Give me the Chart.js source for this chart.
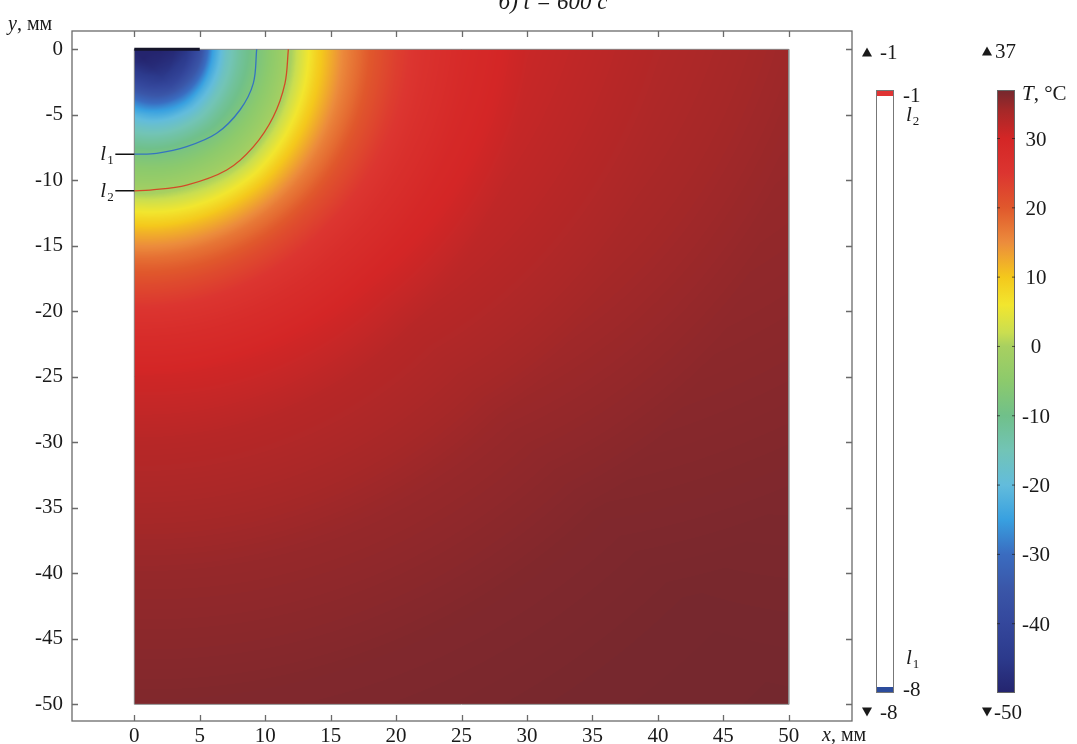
<!DOCTYPE html>
<html>
<head>
<meta charset="utf-8">
<title>T field</title>
<script src="https://cdn.jsdelivr.net/npm/chart.js@4/dist/chart.umd.min.js"></script>
<style>
  body { margin: 0; background: #fff; }
  canvas { display: block; }
</style>
</head>
<body>
<canvas id="campo" width="1077" height="744"></canvas>
<script>
var radii     = [0, 1, 2, 3, 4, 5, 6, 7, 8, 9, 10, 11, 12, 13, 14, 16, 18, 20, 22, 25, 30, 40, 50, 60, 71];
var tSurface  = [-50, -50, -50, -49, -46, -38, -25, -17, -12.5, -9.2, -6.2, -3.2, 0, 4.5, 9, 15.5, 20, 23.5, 26, 28.5, 31, 33, 34.5, 35, 35.5];
var tDiagonal = [-50, -50, -48, -45, -39, -30, -22, -16, -11.5, -8, -5, -2.5, 0.5, 5, 9.5, 16.5, 21.5, 25, 27.5, 30, 32.5, 34.8, 36.2, 36.8, 37];
var tDepth    = [-50, -48, -43, -36, -28, -21, -16, -12, -8, -5.2, -3, 0, 4.5, 8.5, 12, 18, 22, 25.5, 28, 30.5, 32.5, 35, 36.3, 36.8, 37];

// isolines l1 (-8 °C) and l2 (-1 °C), mm
var l1X = [9.35, 9.09, 8.07, 6.29, 4.0, 1.71, 0];
var l1Y = [0, -2.6, -4.63, -6.41, -7.43, -7.94, -8.0];
var l2X = [11.77, 11.51, 10.62, 9.09, 7.06, 4.0, 1.2, 0];
var l2Y = [0, -2.6, -5.14, -7.44, -9.21, -10.36, -10.74, -10.8];

// cryo applicator on the surface and the domain outline
var probeX = [0, 5];
var probeY = [0, 0];
var domainX = [0, 50, 50, 0, 0];
var domainY = [0, 0, -50, -50, 0];

var xTicks = [0, 5, 10, 15, 20, 25, 30, 35, 40, 45, 50];
var yTicks = [0, -5, -10, -15, -20, -25, -30, -35, -40, -45, -50];

// colour legend
var cbarTicks = [30, 20, 10, 0, -10, -20, -30, -40];
var tMin = -50;
var tMax = 37;
var isoMin = -8;
var isoMax = -1;
var cmapT = [-50, -45, -40, -35, -30, -25, -20, -15, -10, -5, 0, 2, 6, 10, 15, 20, 25, 30, 34, 37];
var cmapC = ['#24246e', '#2c3a8c', '#34479c', '#3a56a8', '#3a6cc0', '#38a0e0', '#62bcdc', '#72c4b6', '#70c08a', '#8cca6c',
             '#a8d060', '#cade50', '#f2e62e', '#f4c81c', '#ec8c3c', '#e0582c', '#dc3530', '#d42626', '#a62828', '#74282e'];

var SERIF = "'Liberation Serif', 'DejaVu Serif', serif";

function toPoints(xs, ys){
  var pts = [];
  for (var i = 0; i < xs.length; i++) {
    pts.push({x: xs[i], y: ys[i]});
  }
  return pts;
}

function interp1(xs, ys, v){
  if (v <= xs[0]) return ys[0];
  for (var i = 1; i < xs.length; i++) {
    if (v <= xs[i]) {
      var w = (v - xs[i - 1]) / (xs[i] - xs[i - 1]);
      return ys[i - 1] + w * (ys[i] - ys[i - 1]);
    }
  }
  return ys[ys.length - 1];
}

function tempAt(x, y){
  var r = Math.sqrt(x * x + y * y);
  var ang = Math.atan2(-y, x) * 180 / Math.PI;
  if (ang < 0) ang = 0;
  if (ang > 90) ang = 90;
  if (ang <= 45) {
    var w = ang / 45;
    return (1 - w) * interp1(radii, tSurface, r) + w * interp1(radii, tDiagonal, r);
  }
  var w2 = (ang - 45) / 45;
  return (1 - w2) * interp1(radii, tDiagonal, r) + w2 * interp1(radii, tDepth, r);
}

function hexRgb(h){
  return [parseInt(h.substr(1, 2), 16), parseInt(h.substr(3, 2), 16), parseInt(h.substr(5, 2), 16)];
}

// lookup table, 0.1 °C steps
var cmapRgb = cmapC.map(hexRgb);
var lut = [];
for (var k = 0; k <= (tMax - tMin) * 10; k++) {
  var t = tMin + k / 10;
  var c = [];
  for (var ch = 0; ch < 3; ch++) {
    c.push(Math.round(interp1(cmapT, cmapRgb.map(function(p){ return p[ch]; }), t)));
  }
  lut.push(c);
}

function drawField(chart){
  var ctx = chart.ctx;
  var xs = chart.scales.x, ys = chart.scales.y;
  var px0 = Math.round(xs.getPixelForValue(0)), px1 = Math.round(xs.getPixelForValue(50));
  var py0 = Math.round(ys.getPixelForValue(0)), py1 = Math.round(ys.getPixelForValue(-50));
  var w = px1 - px0, h = py1 - py0;
  var img = ctx.createImageData(w, h);
  var colX = [];
  for (var i = 0; i < w; i++) colX.push(xs.getValueForPixel(px0 + i + 0.5));
  for (var j = 0; j < h; j++) {
    var yv = ys.getValueForPixel(py0 + j + 0.5);
    for (var i2 = 0; i2 < w; i2++) {
      var T = tempAt(colX[i2], yv);
      var idx = Math.round((T - tMin) * 10);
      if (idx < 0) idx = 0;
      if (idx >= lut.length) idx = lut.length - 1;
      var c = lut[idx];
      var o = (j * w + i2) * 4;
      img.data[o] = c[0];
      img.data[o + 1] = c[1];
      img.data[o + 2] = c[2];
      img.data[o + 3] = 255;
    }
  }
  ctx.putImageData(img, px0, py0);
}

function drawParts(ctx, parts, x, y, size){
  for (var i = 0; i < parts.length; i++) {
    ctx.font = (parts[i].it ? 'italic ' : '') + size + 'px ' + SERIF;
    ctx.fillText(parts[i].t, x, y);
    x += ctx.measureText(parts[i].t).width;
  }
}

function drawSub(ctx, base, sub, x, y){
  ctx.font = 'italic 21px ' + SERIF;
  ctx.fillText(base, x, y);
  var bw = ctx.measureText(base).width;
  ctx.font = '13px ' + SERIF;
  ctx.fillText(sub, x + bw + 1, y + 4);
}

function triangle(ctx, x, y, up){
  ctx.beginPath();
  if (up) {
    ctx.moveTo(x, y + 4.5); ctx.lineTo(x + 10, y + 4.5); ctx.lineTo(x + 5, y - 4.5);
  } else {
    ctx.moveTo(x, y - 4.5); ctx.lineTo(x + 10, y - 4.5); ctx.lineTo(x + 5, y + 4.5);
  }
  ctx.closePath();
  ctx.fill();
}

function drawDecor(chart){
  var ctx = chart.ctx;
  var a = chart.chartArea;
  var xs = chart.scales.x, ys = chart.scales.y;
  ctx.save();

  // frame with inward ticks on all sides
  ctx.strokeStyle = '#6a6a6a';
  ctx.lineWidth = 1.3;
  ctx.strokeRect(a.left, a.top, a.right - a.left, a.bottom - a.top);
  ctx.beginPath();
  xTicks.forEach(function(v){
    var p = Math.round(xs.getPixelForValue(v)) + 0.5;
    ctx.moveTo(p, a.bottom); ctx.lineTo(p, a.bottom - 6);
    ctx.moveTo(p, a.top); ctx.lineTo(p, a.top + 6);
  });
  yTicks.forEach(function(v){
    var p = Math.round(ys.getPixelForValue(v)) + 0.5;
    ctx.moveTo(a.left, p); ctx.lineTo(a.left + 6, p);
    ctx.moveTo(a.right, p); ctx.lineTo(a.right - 6, p);
  });
  ctx.stroke();

  ctx.fillStyle = '#1a1a1a';
  ctx.textBaseline = 'alphabetic';

  // title cut by the top edge, axis names
  ctx.textAlign = 'center';
  ctx.font = 'italic 23px ' + SERIF;
  ctx.fillText('б) t = 600 с', 553, 9);
  ctx.textAlign = 'left';
  drawParts(ctx, [{t: 'y', it: true}, {t: ', мм', it: false}], 8, 30, 20);
  drawParts(ctx, [{t: 'x', it: true}, {t: ', мм', it: false}], 822, 741, 20);

  // isoline labels with leaders
  var yl1 = ys.getPixelForValue(l1Y[l1Y.length - 1]);
  var yl2 = ys.getPixelForValue(l2Y[l2Y.length - 1]);
  var xl0 = xs.getPixelForValue(-1.45), xl1 = xs.getPixelForValue(0);
  ctx.strokeStyle = '#111';
  ctx.lineWidth = 1.5;
  ctx.beginPath();
  ctx.moveTo(xl0, yl1); ctx.lineTo(xl1, yl1);
  ctx.moveTo(xl0, yl2); ctx.lineTo(xl1, yl2);
  ctx.stroke();
  drawSub(ctx, 'l', '1', xl0 - 15, yl1 + 6);
  drawSub(ctx, 'l', '2', xl0 - 15, yl2 + 6);

  // isoline legend bar
  var barTop = 90, barBot = 693;
  ctx.fillStyle = '#fff';
  ctx.fillRect(876, barTop, 18, barBot - barTop);
  ctx.fillStyle = '#e03434';
  ctx.fillRect(876, barTop, 18, 6);
  ctx.fillStyle = '#2c4c9c';
  ctx.fillRect(876, barBot - 6, 18, 6);
  ctx.strokeStyle = '#777';
  ctx.lineWidth = 1;
  ctx.strokeRect(876.5, barTop + 0.5, 17, barBot - barTop - 1);

  ctx.fillStyle = '#1a1a1a';
  ctx.font = '21px ' + SERIF;
  ctx.fillText(String(isoMax), 903, 102);
  ctx.fillText(String(isoMin), 903, 696);
  drawSub(ctx, 'l', '2', 906, 121);
  drawSub(ctx, 'l', '1', 906, 664);
  triangle(ctx, 862, 52, true);
  triangle(ctx, 862, 712, false);
  ctx.font = '21px ' + SERIF;
  ctx.fillText(String(isoMax), 880, 59);
  ctx.fillText(String(isoMin), 880, 719);

  // temperature colour bar
  var cx = 997, cw = 18;
  var grad = ctx.createLinearGradient(0, barBot, 0, barTop);
  for (var i = 0; i < cmapT.length; i++) {
    grad.addColorStop((cmapT[i] - tMin) / (tMax - tMin), cmapC[i]);
  }
  ctx.fillStyle = grad;
  ctx.fillRect(cx, barTop, cw, barBot - barTop);
  ctx.strokeStyle = '#666';
  ctx.strokeRect(cx + 0.5, barTop + 0.5, cw - 1, barBot - barTop - 1);

  ctx.strokeStyle = 'rgba(30,30,30,0.7)';
  ctx.beginPath();
  ctx.fillStyle = '#1a1a1a';
  ctx.textAlign = 'center';
  ctx.font = '21px ' + SERIF;
  cbarTicks.forEach(function(v){
    var p = barBot - (v - tMin) / (tMax - tMin) * (barBot - barTop);
    ctx.moveTo(cx, p); ctx.lineTo(cx + 3, p);
    ctx.moveTo(cx + cw, p); ctx.lineTo(cx + cw - 3, p);
    ctx.fillText(String(v), 1036, p + 7);
  });
  ctx.stroke();
  ctx.textAlign = 'left';
  drawParts(ctx, [{t: 'T', it: true}, {t: ', °C', it: false}], 1022, 100, 21);
  triangle(ctx, 982, 51, true);
  triangle(ctx, 982, 712, false);
  ctx.font = '21px ' + SERIF;
  ctx.fillText(String(tMax), 995, 58);
  ctx.fillText(String(tMin), 994, 719);

  ctx.restore();
}

var fieldPlugin = {
  id: 'campo',
  beforeDatasetsDraw: function(chart){ drawField(chart); },
  afterDraw: function(chart){ drawDecor(chart); }
};

function init(){
  var ctx = document.getElementById('campo');
  new Chart(ctx, {
    type: 'scatter',
    data: {
      datasets: [{
        label: 'probe',
        data: toPoints(probeX, probeY),
        showLine: true,
        borderColor: '#15152a',
        borderWidth: 3,
        pointRadius: 0
      }, {
        label: 'l1',
        data: toPoints(l1X, l1Y),
        showLine: true,
        borderColor: '#3574c0',
        borderWidth: 1.3,
        tension: 0.35,
        pointRadius: 0
      }, {
        label: 'l2',
        data: toPoints(l2X, l2Y),
        showLine: true,
        borderColor: '#d24a26',
        borderWidth: 1.3,
        tension: 0.35,
        pointRadius: 0
      }, {
        label: 'domain',
        data: toPoints(domainX, domainY),
        showLine: true,
        borderColor: '#8c8c8c',
        borderWidth: 1,
        pointRadius: 0
      }]
    },
    options: {
      responsive: false,
      animation: false,
      events: [],
      layout: { padding: { left: 0, right: 225, top: 31, bottom: 0 } },
      plugins: {
        legend: { display: false },
        tooltip: { enabled: false }
      },
      scales: {
        x: {
          type: 'linear',
          min: -4.76,
          max: 54.83,
          grid: { display: false, drawTicks: false },
          border: { display: false },
          afterBuildTicks: function(s){ s.ticks = xTicks.map(function(v){ return {value: v}; }); },
          afterFit: function(s){ s.height = 23; },
          ticks: { padding: 3, maxRotation: 0, autoSkip: false, color: '#1a1a1a', font: { family: SERIF, size: 21 } }
        },
        y: {
          type: 'linear',
          min: -51.27,
          max: 1.40,
          grid: { display: false, drawTicks: false },
          border: { display: false },
          afterBuildTicks: function(s){ s.ticks = yTicks.map(function(v){ return {value: v}; }); },
          afterFit: function(s){ s.width = 72; },
          ticks: { padding: 9, autoSkip: false, color: '#1a1a1a', font: { family: SERIF, size: 21 } }
        }
      }
    },
    plugins: [fieldPlugin]
  });
}

init();
</script>
</body>
</html>
